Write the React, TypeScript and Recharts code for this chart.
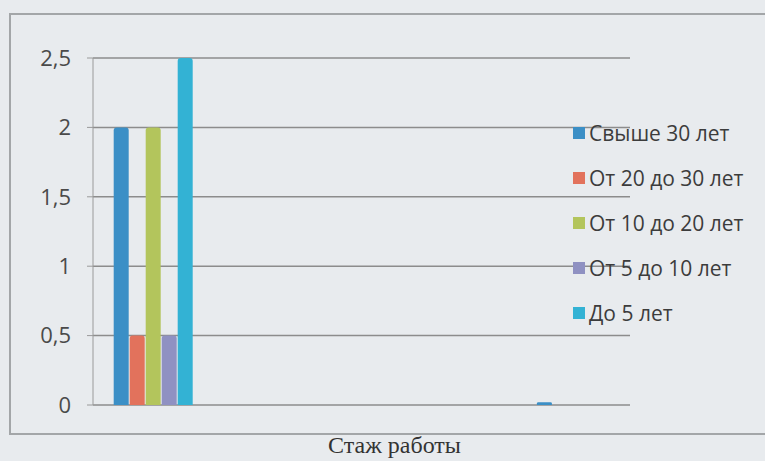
import React from "react";
import { Bar, BarChart, CartesianGrid, XAxis, YAxis } from "recharts";

// groups along the x axis (only the first one is filled in the source)
const categories = ["1", "2", "3", "4", "5"];

const over30 = [2, null, null, null, 0.02];
const from20to30 = [0.5, null, null, null, null];
const from10to20 = [2, null, null, null, null];
const from5to10 = [0.5, null, null, null, null];
const upTo5 = [2.5, null, null, null, null];

const yTicks = [0, 0.5, 1, 1.5, 2, 2.5];

const series = [
  { key: "over30", name: "Свыше 30 лет", color: "#3b8fc6", values: over30 },
  { key: "from20to30", name: "От 20 до 30 лет", color: "#e2725c", values: from20to30 },
  { key: "from10to20", name: "От 10 до 20 лет", color: "#b3c55c", values: from10to20 },
  { key: "from5to10", name: "От 5 до 10 лет", color: "#8f91c2", values: from5to10 },
  { key: "upTo5", name: "До 5 лет", color: "#33b2d4", values: upTo5 },
];

const data = categories.map((name, i) => {
  const row: Record<string, string | number | null> = { name };
  series.forEach((s) => {
    row[s.key] = s.values[i];
  });
  return row;
});

const fmt = (v: number) => String(v).replace(".", ",");

export default function App() {
  return (
    <div
      style={{
        position: "absolute",
        left: 0,
        top: 0,
        width: 765,
        height: 461,
        background: "#e8ebee",
        overflow: "hidden",
      }}
    >
      <div
        style={{
          position: "absolute",
          left: 9,
          top: 13,
          width: 780,
          height: 418,
          border: "2px solid #a3a6a8",
        }}
      />
      <div style={{ position: "absolute", left: 0, top: 0 }}>
        <BarChart
          width={765}
          height={461}
          data={data}
          margin={{ top: 58, right: 135, bottom: 56, left: 43 }}
          barCategoryGap="12%"
          barGap={1}
        >
          <CartesianGrid vertical={false} stroke="#8c8c8c" strokeWidth={1.5} />
          <XAxis dataKey="name" hide padding={{ left: 8, right: 0 }} />
          <YAxis
            width={50}
            domain={[0, 2.5]}
            ticks={yTicks}
            tickFormatter={fmt}
            tick={{ fontSize: 22, fill: "#4a4a4a", fontFamily: "Open Sans" }}
            tickSize={6}
            tickMargin={16}
            stroke="#9a9a9a"
          />
          {series.map((s) => (
            <Bar
              key={s.key}
              dataKey={s.key}
              name={s.name}
              fill={s.color}
              radius={[3, 3, 0, 0]}
              isAnimationActive={false}
            />
          ))}
        </BarChart>
      </div>
      <div
        style={{
          position: "absolute",
          left: 573,
          top: 110,
          fontFamily: "Open Sans",
          fontSize: 21,
          color: "#3c3c3c",
          whiteSpace: "nowrap",
        }}
      >
        {series.map((s) => (
          <div
            key={s.key}
            style={{ display: "flex", alignItems: "center", height: 45 }}
          >
            <span
              style={{
                display: "inline-block",
                width: 12,
                height: 12,
                background: s.color,
                marginRight: 4,
              }}
            />
            {s.name}
          </div>
        ))}
      </div>
      <div
        style={{
          position: "absolute",
          left: 12,
          width: 765,
          top: 432,
          textAlign: "center",
          fontFamily: "Liberation Serif",
          fontSize: 24,
          color: "#333",
        }}
      >
        Стаж работы
      </div>
    </div>
  );
}
